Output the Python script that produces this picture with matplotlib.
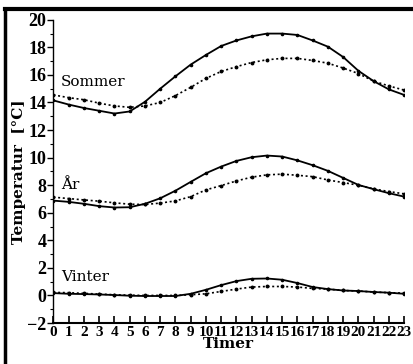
import matplotlib.pyplot as plt
from matplotlib.lines import Line2D
from matplotlib.ticker import MultipleLocator

hours = list(range(24))

# Sommer
sommer_a = [14.15, 13.85, 13.6, 13.4, 13.2, 13.35, 14.05, 15.0, 15.9, 16.75, 17.45, 18.1,
            18.5, 18.8, 19.0, 19.0, 18.9, 18.5, 18.05, 17.3, 16.3, 15.55, 14.95, 14.55]
sommer_b = [14.55, 14.35, 14.2, 13.95, 13.75, 13.65, 13.75, 14.0, 14.5, 15.1, 15.75, 16.25,
            16.6, 16.9, 17.1, 17.2, 17.2, 17.05, 16.85, 16.5, 16.1, 15.55, 15.2, 14.9]
# År
aar_a = [6.88, 6.79, 6.65, 6.48, 6.38, 6.4, 6.65, 7.05, 7.6, 8.24, 8.87, 9.35,
         9.76, 10.03, 10.15, 10.08, 9.8, 9.45, 9.04, 8.53, 8.02, 7.71, 7.42, 7.17]
aar_b = [7.13, 7.03, 6.93, 6.84, 6.72, 6.62, 6.6, 6.7, 6.86, 7.17, 7.66, 7.97,
         8.31, 8.58, 8.75, 8.8, 8.72, 8.62, 8.38, 8.19, 8.0, 7.73, 7.54, 7.37]
# Vinter
vinter_a = [0.17, 0.12, 0.1, 0.07, 0.03, -0.02, -0.04, -0.04, -0.04, 0.12, 0.41, 0.75,
            1.04, 1.21, 1.23, 1.14, 0.9, 0.61, 0.46, 0.36, 0.32, 0.25, 0.2, 0.12]
vinter_b = [0.22, 0.2, 0.15, 0.1, 0.05, 0.02, 0.0, 0.0, 0.0, 0.05, 0.12, 0.29,
            0.46, 0.61, 0.65, 0.65, 0.61, 0.51, 0.46, 0.36, 0.32, 0.25, 0.2, 0.17]

labels = ["Sommer", "År", "Vinter"]
label_pos = [(0.5, 15.5), (0.5, 8.0), (0.5, 1.35)]

FONT = "DejaVu Serif"

fig = plt.figure(figsize=(4.13, 3.64), dpi=100)
ax = fig.add_axes([0.1295, 0.1126, 0.849, 0.833])

for a, b in [(sommer_a, sommer_b), (aar_a, aar_b), (vinter_a, vinter_b)]:
    ax.plot(hours, a, color="black", lw=1.3, marker="o", ms=1.6)
    ax.plot(hours, b, color="black", lw=1.2, ls=(0, (1.2, 1.6)), marker="o", ms=1.8)

for txt, (x, y) in zip(labels, label_pos):
    ax.text(x, y, txt, fontsize=11, family=FONT, va="center", ha="left")

ax.set_xlim(0, 23)
ax.set_ylim(-2, 20)
ax.set_xticks(hours)
ax.set_xticklabels([str(h) for h in hours], fontsize=11, family="Liberation Serif",
                   fontweight="bold")
ax.yaxis.set_major_locator(MultipleLocator(2))
ax.yaxis.set_minor_locator(MultipleLocator(1))
for t in ax.get_yticklabels():
    t.set_family("Liberation Serif")
    t.set_fontweight("bold")
    t.set_fontsize(13)
ax.tick_params(axis="x", direction="in", length=5, width=1.2, pad=2)
ax.tick_params(axis="y", which="major", direction="out", length=4, width=1.0, pad=1)
ax.tick_params(axis="y", which="minor", direction="out", length=2, width=0.8)
ax.spines["top"].set_visible(False)
ax.spines["right"].set_visible(False)
ax.spines["left"].set_linewidth(1.0)
ax.spines["bottom"].set_linewidth(1.5)

ax.set_xlabel("Timer", fontsize=11, family=FONT, fontweight="bold", labelpad=-1)
ax.set_ylabel("Temperatur  [°C]", fontsize=11, family=FONT, fontweight="bold", labelpad=1)

# frame around the figure (top and left visible)
fig.add_artist(Line2D([0.012, 0.012], [0.0, 0.976], color="black", lw=2.5,
                      transform=fig.transFigure))
fig.add_artist(Line2D([0.012, 1.0], [0.976, 0.976], color="black", lw=3,
                      transform=fig.transFigure))

fig.savefig("out.png", dpi=100)
